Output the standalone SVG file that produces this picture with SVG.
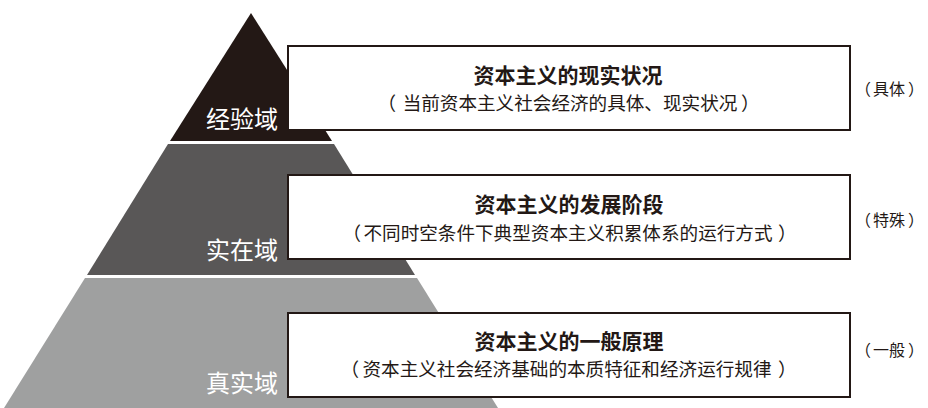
<svg xmlns="http://www.w3.org/2000/svg" width="928" height="408" viewBox="0 0 928 408">
<style>
.lbl{font-family:"Noto Sans CJK SC","Noto Sans",sans-serif;fill:#ffffff;font-size:24px}
.box{fill:#ffffff;stroke:#231815;stroke-width:2}
.t{font-family:"Noto Sans CJK SC","Noto Sans",sans-serif;fill:#231815;font-size:21px;font-weight:bold;text-anchor:middle}
.s{font-family:"Noto Sans CJK SC","Noto Sans",sans-serif;fill:#231815;font-size:18.6px;text-anchor:middle}
.r{font-family:"Noto Sans CJK SC","Noto Sans",sans-serif;fill:#231815;font-size:16px;text-anchor:middle}
.o{text-anchor:end}
.c{text-anchor:start}
</style>
<rect width="928" height="408" fill="#ffffff"/>
<g id="layer-experience">
<polygon points="251,13 332,141 170,141" fill="#231815"/>
<text class="lbl" x="206" y="128">经验域</text>
</g>
<g id="layer-actual">
<polygon points="168,144 334,144 415,275 87,275" fill="#595757"/>
<text class="lbl" x="206" y="259">实在域</text>
</g>
<g id="layer-real">
<polygon points="85,278 417,278 498,408 4,408" fill="#9fa0a0"/>
<text class="lbl" x="206" y="392">真实域</text>
</g>
<g id="box-reality">
<rect class="box" x="288" y="46" width="562" height="84"/>
<text class="t" x="568" y="83">资本主义的现实状况</text>
<text class="s o" x="396" y="110">（</text>
<text class="s" x="570" y="110">当前资本主义社会经济的具体、现实状况</text>
<text class="s c" x="741" y="110">）</text>
<text class="r o" x="871" y="95">（</text>
<text class="r" x="889" y="95">具体</text>
<text class="r c" x="908" y="95">）</text>
</g>
<g id="box-stage">
<rect class="box" x="288" y="175" width="562" height="84"/>
<text class="t" x="569" y="212">资本主义的发展阶段</text>
<text class="s o" x="361" y="240">（</text>
<text class="s" x="568" y="240">不同时空条件下典型资本主义积累体系的运行方式</text>
<text class="s c" x="778" y="240">）</text>
<text class="r o" x="871" y="226">（</text>
<text class="r" x="889" y="226">特殊</text>
<text class="r c" x="908" y="226">）</text>
</g>
<g id="box-principle">
<rect class="box" x="288" y="313" width="562" height="84"/>
<text class="t" x="569" y="349">资本主义的一般原理</text>
<text class="s o" x="359" y="376">（</text>
<text class="s" x="567" y="376">资本主义社会经济基础的本质特征和经济运行规律</text>
<text class="s c" x="778" y="376">）</text>
<text class="r o" x="871" y="356">（</text>
<text class="r" x="889" y="356">一般</text>
<text class="r c" x="908" y="356">）</text>
</g>
</svg>
